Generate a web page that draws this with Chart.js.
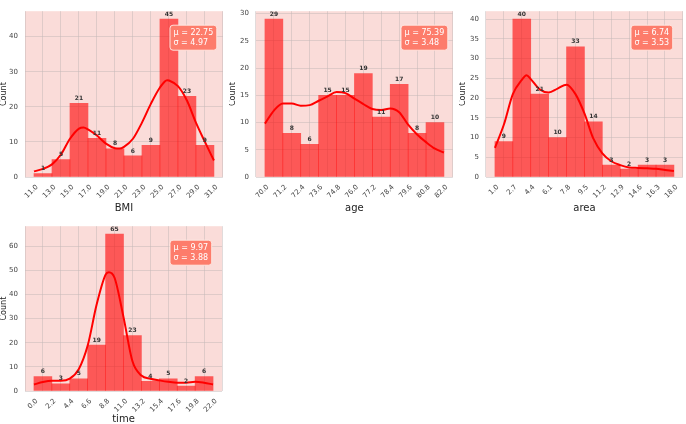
<!DOCTYPE html>
<html>
<head>
<meta charset="utf-8">
<script src="https://cdn.jsdelivr.net/npm/chart.js@4.4.1/dist/chart.umd.min.js"></script>
<style>
  html, body { margin: 0; padding: 0; background: #fff; }
  #wrap { position: relative; width: 686px; height: 424px; overflow: hidden; }
  canvas { position: absolute; }
</style>
</head>
<body>
<div id="wrap">
  <canvas id="cBmi"></canvas>
  <canvas id="cAge"></canvas>
  <canvas id="cArea"></canvas>
  <canvas id="cTime"></canvas>
</div>
<script>
// ---- data ----
const bmiEdges = [11.0, 13.0, 15.0, 17.0, 19.0, 21.0, 23.0, 25.0, 27.0, 29.0, 31.0]
const bmiCounts = [1, 5, 21, 11, 8, 6, 9, 45, 23, 9]
const bmiKdeX = [11, 12, 13, 14, 15, 16, 16.5, 17, 18, 19, 20, 20.5, 21, 22, 23, 24, 25, 25.8, 26, 27, 28, 29, 30, 31]
const bmiKdeY = [1.6, 2.3, 3.6, 6.4, 10.9, 13.8, 14.1, 13.6, 11.8, 9.5, 8.2, 8.1, 8.6, 10.9, 15.5, 20.9, 25.5, 27.6, 27.5, 25.9, 21.8, 15.5, 10.0, 4.7]
const bmiYTicks = [0, 10, 20, 30, 40]

const ageEdges = [70.0, 71.2, 72.4, 73.6, 74.8, 76.0, 77.2, 78.4, 79.6, 80.8, 82.0]
const ageCounts = [29, 8, 6, 15, 15, 19, 11, 17, 8, 10]
const ageKdeX = [70, 70.6, 71.2, 71.8, 72.4, 73.0, 73.6, 74.2, 74.8, 75.4, 76.0, 76.6, 77.2, 77.8, 78.4, 79.0, 79.6, 80.2, 80.8, 81.4, 82.0]
const ageKdeY = [9.8, 12.2, 13.5, 13.5, 13.1, 13.2, 14.0, 14.8, 15.6, 15.4, 14.4, 13.4, 12.5, 12.3, 12.6, 11.9, 9.6, 7.8, 6.4, 5.2, 4.5]
const ageYTicks = [0, 5, 10, 15, 20, 25, 30]

const areaEdges = [1.0, 2.7, 4.4, 6.1, 7.8, 9.5, 11.2, 12.9, 14.6, 16.3, 18.0]
const areaCounts = [9, 40, 21, 10, 33, 14, 3, 2, 3, 3]
const areaKdeX = [1.0, 1.85, 2.7, 3.55, 4.0, 4.4, 5.25, 6.1, 6.95, 7.8, 8.65, 9.5, 10.35, 11.2, 12.05, 12.9, 13.75, 14.6, 15.45, 16.3, 17.15, 18.0]
const areaKdeY = [7.4, 13.3, 21.0, 24.6, 25.8, 24.8, 22.2, 21.4, 22.4, 23.4, 21.0, 16.1, 9.7, 6.0, 4.0, 3.0, 2.4, 2.3, 2.2, 2.1, 1.8, 1.5]
const areaYTicks = [0, 5, 10, 15, 20, 25, 30, 35, 40]

const timeEdges = [0.0, 2.2, 4.4, 6.6, 8.8, 11.0, 13.2, 15.4, 17.6, 19.8, 22.0]
const timeCounts = [6, 3, 5, 19, 65, 23, 4, 5, 2, 6]
const timeKdeX = [0, 1.1, 2.2, 3.3, 4.4, 5.5, 6.6, 7.7, 8.8, 9.2, 9.9, 11.0, 12.1, 13.2, 14.3, 15.4, 16.5, 17.6, 18.7, 19.8, 20.9, 22.0]
const timeKdeY = [2.7, 3.7, 4.2, 4.2, 5.1, 9.0, 18.8, 35.8, 48.2, 49.2, 46.9, 30.6, 12.3, 6.4, 5.1, 4.4, 3.8, 3.4, 3.4, 3.8, 3.4, 2.7]
const timeYTicks = [0, 10, 20, 30, 40, 50, 60]

const means = [22.75, 75.39, 6.74, 9.97]
const stds = [4.97, 3.48, 3.53, 3.88]

// ---- styling ----
Chart.defaults.font.family = 'DejaVu Sans'
const bgPink = '#fadcd9'
const gridCol = 'rgba(196,184,184,0.5)'

const bgPlugin = {
    id: 'bgPink',
    beforeDraw(chart) {
        const { ctx, chartArea: a } = chart
        ctx.save()
        ctx.fillStyle = bgPink
        ctx.fillRect(a.left, a.top, a.right - a.left, a.bottom - a.top)
        ctx.restore()
    }
}

const labelPlugin = {
    id: 'barLabels',
    afterDatasetsDraw(chart) {
        const { ctx } = chart
        const meta = chart.getDatasetMeta(0)
        const vals = chart.data.datasets[0].data
        ctx.save()
        ctx.font = 'bold 6px "DejaVu Sans"'
        ctx.fillStyle = '#333'
        ctx.textAlign = 'center'
        ctx.textBaseline = 'bottom'
        meta.data.forEach((el, i) => {
            ctx.fillText(vals[i].y, el.x, el.y - 2)
        })
        ctx.restore()
    }
}

const statPlugin = {
    id: 'statBox',
    afterDraw(chart, args, opts) {
        const { ctx, chartArea: a } = chart
        const l1 = 'μ = ' + opts.mu.toFixed(2)
        const l2 = 'σ = ' + opts.sd.toFixed(2)
        ctx.save()
        ctx.font = '8px "DejaVu Sans"'
        const w = Math.max(ctx.measureText(l1).width, ctx.measureText(l2).width) + 7
        const x = a.left + 145
        const y = a.top + 14
        ctx.beginPath()
        ctx.roundRect(x, y, w, 25, 3)
        ctx.fillStyle = '#fd7c6b'
        ctx.fill()
        ctx.strokeStyle = 'rgba(255,235,230,0.9)'
        ctx.lineWidth = 1
        ctx.stroke()
        ctx.fillStyle = '#fff'
        ctx.textBaseline = 'middle'
        ctx.fillText(l1, x + 3.5, y + 8)
        ctx.fillText(l2, x + 3.5, y + 17.5)
        ctx.restore()
    }
}

const makePanel = (p) => {
    const canvas = document.getElementById(p.id)
    canvas.width = p.w
    canvas.height = p.h
    canvas.style.left = p.left + 'px'
    canvas.style.top = p.top + 'px'
    canvas.style.width = p.w + 'px'
    canvas.style.height = p.h + 'px'

    const edges = p.edges
    const span = edges[edges.length - 1] - edges[0]
    const bars = p.counts.map((c, i) => ({ x: (edges[i] + edges[i + 1]) / 2, y: c }))
    const kde = p.kdeX.map((x, i) => ({ x: x, y: p.kdeY[i] }))
    const yMax = Math.max(...p.counts) * 1.05

    return new Chart(canvas.getContext('2d'), {
        type: 'bar',
        data: {
            datasets: [
                {
                    type: 'bar',
                    data: bars,
                    backgroundColor: 'rgba(255,0,0,0.6)',
                    borderWidth: 0,
                    barPercentage: 1,
                    categoryPercentage: 1,
                    order: 2
                },
                {
                    type: 'line',
                    data: kde,
                    borderColor: '#f00',
                    borderWidth: 2,
                    pointRadius: 0,
                    cubicInterpolationMode: 'monotone',
                    fill: false,
                    order: 1
                }
            ]
        },
        options: {
            responsive: false,
            animation: false,
            layout: { padding: { top: p.padTop, right: p.padRight, left: 0, bottom: 0 } },
            plugins: {
                legend: { display: false },
                tooltip: { enabled: false },
                statBox: { mu: p.mu, sd: p.sd }
            },
            scales: {
                x: {
                    type: 'linear',
                    offset: false,
                    min: edges[0] - span * 0.05,
                    max: edges[edges.length - 1] + span * 0.05,
                    afterBuildTicks: s => { s.ticks = edges.map(v => ({ value: v })) },
                    afterFit: s => { s.height = p.xAxisH },
                    ticks: {
                        autoSkip: false,
                        minRotation: 45,
                        maxRotation: 45,
                        padding: 6,
                        labelOffset: 3,
                        color: '#444',
                        font: { size: 7 },
                        callback: v => Number(v).toFixed(1)
                    },
                    grid: { color: gridCol, drawTicks: false },
                    border: { display: false },
                    title: {
                        display: true,
                        text: p.xTitle,
                        color: '#222',
                        font: { size: 10 },
                        padding: { top: 0, bottom: p.xTitlePad }
                    }
                },
                y: {
                    min: 0,
                    max: yMax,
                    afterBuildTicks: s => { s.ticks = p.yTicks.map(v => ({ value: v })) },
                    afterFit: s => { s.width = p.yAxisW },
                    ticks: { padding: 7, color: '#444', font: { size: 7 } },
                    grid: { color: gridCol, drawTicks: false },
                    border: { display: false },
                    title: {
                        display: true,
                        text: 'Count',
                        color: '#222',
                        font: { size: 8, lineHeight: 1.1 },
                        padding: 0
                    }
                }
            }
        },
        plugins: [bgPlugin, labelPlugin, statPlugin]
    })
}

makePanel({ id: 'cBmi', left: 0, top: 0, w: 226, h: 215, yAxisW: 25, padTop: 2, padRight: 3, xAxisH: 38, xTitlePad: 1,
    edges: bmiEdges, counts: bmiCounts, kdeX: bmiKdeX, kdeY: bmiKdeY, yTicks: bmiYTicks, xTitle: 'BMI', mu: means[0], sd: stds[0] })
makePanel({ id: 'cAge', left: 229, top: 0, w: 227, h: 215, yAxisW: 27, padTop: 2, padRight: 3, xAxisH: 38, xTitlePad: 1,
    edges: ageEdges, counts: ageCounts, kdeX: ageKdeX, kdeY: ageKdeY, yTicks: ageYTicks, xTitle: 'age', mu: means[1], sd: stds[1] })
makePanel({ id: 'cArea', left: 459, top: 0, w: 227, h: 215, yAxisW: 27, padTop: 2, padRight: 3, xAxisH: 38, xTitlePad: 1,
    edges: areaEdges, counts: areaCounts, kdeX: areaKdeX, kdeY: areaKdeY, yTicks: areaYTicks, xTitle: 'area', mu: means[2], sd: stds[2] })
makePanel({ id: 'cTime', left: 0, top: 215, w: 226, h: 209, yAxisW: 25, padTop: 2, padRight: 4, xAxisH: 33, xTitlePad: -1,
    edges: timeEdges, counts: timeCounts, kdeX: timeKdeX, kdeY: timeKdeY, yTicks: timeYTicks, xTitle: 'time', mu: means[3], sd: stds[3] })
</script>
</body>
</html>
